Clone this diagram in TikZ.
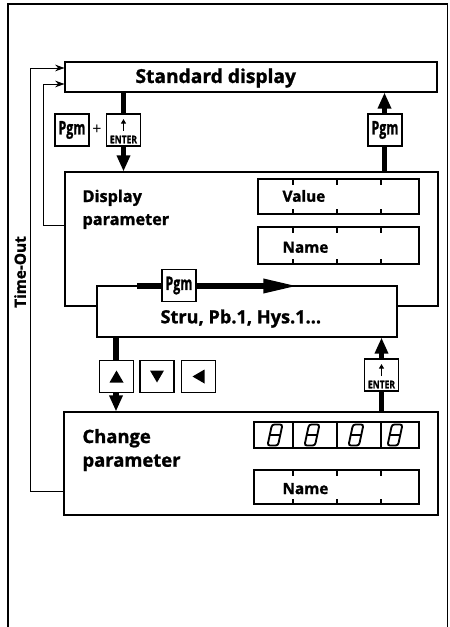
\documentclass[tikz,border=0pt]{standalone}
\usepackage{fontspec}
\setmainfont{Open Sans}[BoldFeatures={FakeBold=1.3}]
\usetikzlibrary{arrows.meta,fit,calc}
\tikzset{
  big/.style={font=\bfseries\fontsize{12.2}{14}\selectfont, inner sep=0, anchor=base west},
  mid/.style={font=\bfseries\fontsize{11.5}{13}\selectfont, inner sep=0, anchor=base west},
  frame/.style={draw, inner sep=0, fill=white},
  keybox/.style={draw, fill=white, inner sep=0, minimum width=25.5pt, minimum height=24pt, line width=0.8pt},
  pgmtext/.style={font=\bfseries\fontsize{14}{16}\selectfont},
  bigarrow/.style={line width=4pt, -{Triangle[length=12pt,width=9.5pt]}},
  longarrow/.style={line width=4pt, -{Triangle[length=26pt,width=10pt]}},
  thinarrow/.style={line width=0.7pt, -{Stealth[length=7pt,width=5pt]}},
  enterkey/.pic={
    \node[keybox] (-k) {};
    \draw[line width=1.1pt,-{Triangle[length=3.5pt,width=3.8pt]}] (0,1) -- (0,-11);
    \node[font=\bfseries\fontsize{8}{9}\selectfont, inner sep=0] (-t) at (0,9.5) {\scalebox{0.8}[1]{ENTER}};
  },
  segeight/.pic={
    \draw[line width=1.4pt, rounded corners=1.8pt] (-3,-10.5) -- (7.5,-10.5) -- (3,10.5) -- (-7.5,10.5) -- cycle;
    \draw[line width=1.4pt] (-5,0) -- (5.2,0);
  }
}
\begin{document}
\begin{tikzpicture}[x=0.75pt,y=-0.75pt, line width=0.8pt]
\useasboundingbox (0,0) rectangle (449,627);
% outer frame
\draw[line width=1.1pt] (8,627) -- (8,4) -- (447.5,4) -- (447.5,627);

% main boxes
\node[frame, fit={(65,62) (437,92)}] (std) {};
\node[big, font=\bfseries\fontsize{14.4}{16}\selectfont] (stdt) at (135,83) {Standard display};

\node[frame, fit={(65,172) (438,306)}] (disp) {};
\node[big] (dispt1) at (82,202) {Display};
\node[big] (dispt2) at (82,225) {parameter};

\node[frame, fit={(258,179) (419,214)}] (val) {};
\node[mid] (valt) at (282,201.7) {Value};
\node[frame, fit={(258,227) (419,264)}] (nam1) {};
\node[mid] (nam1t) at (282,252.7) {Name};
\foreach \x in {293,337,381}{
  \draw (\x,179) -- (\x,185); \draw (\x,214) -- (\x,209);
  \draw (\x,227) -- (\x,233); \draw (\x,264) -- (\x,259);
}

\node[frame, fit={(97,286) (397,337)}] (stru) {};
\node[mid, font=\bfseries\fontsize{13.6}{15}\selectfont] (strut) at (160,323.3) {Stru, Pb.1, Hys.1...};

\node[frame, fit={(64,412) (438,515)}] (chg) {};
\node[big, font=\bfseries\fontsize{13.8}{16}\selectfont] (chgt1) at (82,443) {Change};
\node[big, font=\bfseries\fontsize{13.8}{16}\selectfont] (chgt2) at (82,466.7) {parameter};

\node[frame, fit={(254,422) (419,448)}] (seg) {};
\foreach \x in {293,337,381}{ \draw (\x,422) -- (\x,448); }
\pic at (275,435) {segeight};
\pic at (312,435) {segeight};
\pic at (356,435) {segeight};
\pic at (395,435) {segeight};

\node[frame, fit={(254,470) (419,504)}] (nam2) {};
\node[mid] (nam2t) at (282,494) {Name};
\foreach \x in {293,337,381}{
  \draw (\x,470) -- (\x,476); \draw (\x,504) -- (\x,499);
}

% time-out loops
\draw[thinarrow] (chg.west |- 0,491) -- (30,491) -- (30,68) -- (std.west |- 0,68);
\draw[thinarrow] (disp.west |- 0,225) -- (43,225) -- (43,84) -- (std.west |- 0,84);
\node[font=\bfseries\fontsize{11.5}{13}\selectfont, rotate=90, inner sep=0] (tout) at (20,272) {Time-Out};

% thick arrows
\coordinate (a1) at (123.5,0);
\coordinate (a2) at (384.5,0);
\coordinate (a3) at (116,0);
\coordinate (a4) at (381.5,0);
\draw[bigarrow] (std.south -| a1) -- (disp.north -| a1);
\draw[bigarrow] (disp.north -| a2) -- (std.south -| a2);
\draw[bigarrow] (stru.south -| a3) -- (chg.north -| a3);
\draw[bigarrow] (chg.north -| a4) -- (stru.south -| a4);
\coordinate (h0) at (137,286);
\coordinate (h1) at (298,286);
\draw[longarrow] (h0) -- (h1);

% keys
\node[keybox, pgmtext] (pgm1) at (72,130) {\scalebox{0.66}[1]{Pgm}};
\node[font=\fontsize{12}{14}\selectfont, inner sep=0] (plus) at (97,130) {+};
\pic (ent1) at (123.5,130) {enterkey};
\node[keybox, pgmtext] (pgm2) at (385,130) {\scalebox{0.66}[1]{Pgm}};
\node[keybox, pgmtext] (pgm3) at (179,285.5) {\scalebox{0.66}[1]{Pgm}};
\pic (ent2) at (381.5,375) {enterkey};

\node[keybox] (kup) at (116.5,376.5) {};
\fill ($(kup.center)+(0,-6)$) -- ($(kup.center)+(7,6)$) -- ($(kup.center)+(-7,6)$) -- cycle;
\node[keybox] (kdown) at (157,376.5) {};
\fill ($(kdown.center)+(0,6)$) -- ($(kdown.center)+(7,-6)$) -- ($(kdown.center)+(-7,-6)$) -- cycle;
\node[keybox] (kleft) at (198.5,376.5) {};
\fill ($(kleft.center)+(-6,0)$) -- ($(kleft.center)+(6,-7)$) -- ($(kleft.center)+(6,7)$) -- cycle;
\end{tikzpicture}
\end{document}
